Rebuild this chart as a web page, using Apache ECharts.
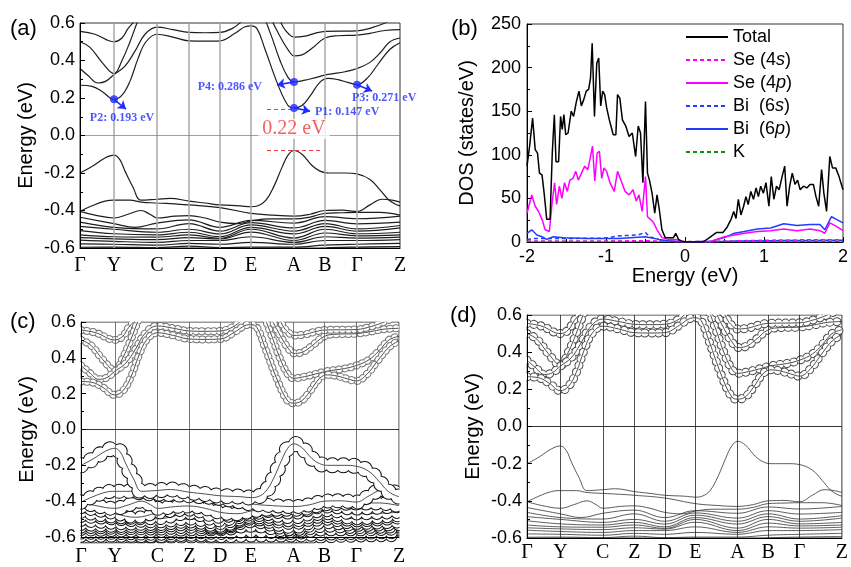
<!DOCTYPE html>
<html lang="en">
<head>
<meta charset="UTF-8">
<title>Band structure and DOS</title>
<script src="https://cdn.jsdelivr.net/npm/echarts@6/dist/echarts.min.js"></script>
<style>html,body{margin:0;padding:0;background:#fff;}</style>
</head>
<body>
<div id="main" style="width:851px;height:567px;"></div>
<script>
// high-symmetry path (k in arbitrary path units)
const kTicks = [0, 34, 77, 109, 140, 171, 214, 245, 277, 320];
const kNames = ['Γ', 'Y', 'C', 'Z', 'D', 'E', 'A', 'B', 'Γ', 'Z'];

// conduction bands [k, E]
const cbA = [[0,0.555],[15,0.54],[34,0.50],[42,0.52],[48,0.57],[56,0.62],[60,0.66]];
const cbB = [[0,0.50],[10,0.47],[22,0.39],[34,0.33],[42,0.40],[50,0.5],[57,0.6],[62,0.66]];
const cbC = [[0,0.357],[8,0.32],[18,0.28],[26,0.29],[34,0.325],[45,0.37],[55,0.45],[65,0.54],[77,0.578],[93,0.565],[109,0.55],[125,0.548],[140,0.55],[152,0.57],[162,0.61],[172,0.66],[182,0.64],[190,0.55],[200,0.4],[208,0.31],[214,0.286],[225,0.295],[232,0.304],[248,0.326],[265,0.34],[277,0.357],[290,0.39],[300,0.44],[310,0.5],[320,0.52]];
const cb1 = [[0,0.268],[12,0.262],[22,0.235],[34,0.193],[42,0.215],[50,0.29],[58,0.41],[66,0.5],[77,0.54],[93,0.525],[109,0.505],[125,0.503],[140,0.505],[155,0.545],[165,0.58],[171,0.585],[177,0.57],[185,0.46],[198,0.27],[208,0.16],[214,0.147],[222,0.16],[230,0.21],[240,0.285],[248,0.305],[258,0.298],[268,0.283],[277,0.271],[288,0.31],[298,0.38],[310,0.46],[320,0.495]];
const cb3 = [[186,0.68],[195,0.58],[203,0.5],[209,0.45],[214,0.425],[222,0.43],[232,0.465],[245,0.52],[258,0.532],[277,0.535],[290,0.545],[305,0.56],[320,0.565]];
const cb4 = [[195,0.68],[203,0.58],[209,0.54],[214,0.525],[225,0.53],[235,0.545],[245,0.555],[277,0.558],[292,0.575],[305,0.6],[315,0.625]];

// valence bands [k, E]
const vb1 = [[0,-0.2],[12,-0.165],[25,-0.12],[34,-0.105],[40,-0.13],[45,-0.19],[53,-0.276],[61,-0.345],[77,-0.34],[90,-0.335],[109,-0.35],[125,-0.36],[140,-0.37],[160,-0.375],[171,-0.38],[178,-0.375],[186,-0.345],[194,-0.27],[202,-0.17],[208,-0.105],[214,-0.08],[222,-0.1],[232,-0.16],[240,-0.19],[248,-0.2],[265,-0.2],[277,-0.205],[290,-0.235],[300,-0.29],[308,-0.34],[315,-0.365],[320,-0.375]];
const vb2 = [[0,-0.405],[12,-0.375],[25,-0.35],[34,-0.345],[50,-0.345],[61,-0.355],[77,-0.36],[95,-0.365],[109,-0.37],[140,-0.385],[171,-0.415],[193,-0.425],[214,-0.43],[230,-0.42],[245,-0.40],[262,-0.398],[277,-0.405],[290,-0.37],[302,-0.34],[312,-0.345],[320,-0.355]];
const vb3 = [[0,-0.405],[15,-0.425],[34,-0.44],[48,-0.42],[61,-0.40],[70,-0.42],[77,-0.44],[95,-0.43],[109,-0.427],[125,-0.44],[140,-0.462],[158,-0.47],[171,-0.455],[190,-0.445],[214,-0.445],[230,-0.435],[245,-0.415],[262,-0.412],[277,-0.41],[300,-0.41],[320,-0.425]];
const vb4 = [[0,-0.436],[34,-0.47],[55,-0.49],[77,-0.467],[109,-0.45],[140,-0.49],[171,-0.453],[214,-0.467],[245,-0.433],[277,-0.444],[320,-0.43]];
const vb5 = [[0,-0.462],[34,-0.49],[77,-0.498],[109,-0.47],[140,-0.51],[171,-0.465],[214,-0.493],[245,-0.453],[277,-0.471],[320,-0.462]];
const vb6 = [[0,-0.485],[34,-0.50],[77,-0.516],[109,-0.50],[140,-0.525],[171,-0.477],[214,-0.51],[245,-0.47],[277,-0.498],[320,-0.48]];
const vb7 = [[0,-0.507],[34,-0.524],[77,-0.53],[109,-0.516],[140,-0.54],[171,-0.49],[214,-0.525],[245,-0.485],[277,-0.51],[320,-0.493]];
const vb8 = [[0,-0.53],[34,-0.54],[77,-0.542],[109,-0.53],[140,-0.548],[171,-0.50],[214,-0.547],[245,-0.50],[277,-0.524],[320,-0.516]];
const vb9 = [[0,-0.545],[34,-0.551],[77,-0.555],[109,-0.545],[140,-0.552],[171,-0.515],[214,-0.56],[245,-0.52],[277,-0.535],[320,-0.53]];
const vb10 = [[0,-0.558],[34,-0.565],[77,-0.57],[109,-0.56],[140,-0.56],[171,-0.54],[214,-0.57],[245,-0.54],[277,-0.547],[320,-0.542]];
const vb11 = [[0,-0.578],[34,-0.58],[77,-0.585],[109,-0.575],[140,-0.58],[171,-0.57],[214,-0.58],[245,-0.56],[277,-0.56],[320,-0.555]];
const vb12 = [[0,-0.596],[34,-0.595],[77,-0.598],[109,-0.59],[140,-0.598],[171,-0.595],[214,-0.595],[245,-0.585],[277,-0.58],[320,-0.575]];
const vb13 = [[0,-0.615],[34,-0.61],[77,-0.605],[109,-0.602],[140,-0.61],[171,-0.62],[214,-0.615],[245,-0.6],[277,-0.595],[320,-0.592]];

const conduction = [cbA, cbB, cbC, cb1, cb3, cb4];
const valence = [vb13, vb12, vb11, vb10, vb9, vb8, vb7, vb6, vb5, vb4, vb3, vb2, vb1];

// annotations in panel (a)
const pNames = ['P1: 0.147 eV', 'P2: 0.193 eV', 'P3: 0.271 eV', 'P4: 0.286 eV'];
const pPoints = [[214, 0.147], [34, 0.193], [277, 0.271], [214, 0.286]];
const pArrowEnds = [[230, 0.13], [46, 0.141], [292, 0.237], [197, 0.269]];
const pLabelAt = [[235, 0.125], [42, 0.093], [272, 0.2], [182, 0.259]];
const gapText = '0.22 eV';
const gapLines = [[[187, 0.142], [213, 0.142]], [[187, -0.077], [242, -0.077]]];
const gapTextAt = [214, 0.035];

// DOS [E, states/eV]
const dosTotal = [[-2,87],[-1.967,110],[-1.929,142],[-1.896,106],[-1.867,102],[-1.842,79],[-1.81,77],[-1.783,56],[-1.75,26],[-1.708,26],[-1.68,102],[-1.654,146],[-1.633,92],[-1.6,92],[-1.575,144],[-1.554,129],[-1.533,146],[-1.51,123],[-1.48,125],[-1.44,150],[-1.41,144],[-1.375,161],[-1.342,173],[-1.312,156],[-1.283,163],[-1.25,173],[-1.22,175],[-1.196,188],[-1.175,228],[-1.146,144],[-1.117,205],[-1.092,211],[-1.067,156],[-1.042,173],[-1.017,169],[-0.992,154],[-0.958,140],[-0.908,123],[-0.875,123],[-0.854,169],[-0.825,165],[-0.792,140],[-0.75,133],[-0.708,121],[-0.667,125],[-0.625,98],[-0.592,133],[-0.563,125],[-0.533,68],[-0.5,161],[-0.475,79],[-0.45,71],[-0.417,56],[-0.383,33],[-0.354,54],[-0.325,37],[-0.292,14],[-0.25,5],[-0.188,5],[-0.146,5],[-0.117,10],[-0.083,3],[-0.042,1],[0,0],[0.23,0],[0.31,5],[0.4,11],[0.48,11],[0.533,17],[0.583,26],[0.617,35],[0.646,27],[0.675,49],[0.708,31],[0.742,41],[0.771,52],[0.8,43],[0.833,58],[0.867,49],[0.9,62],[0.929,52],[0.958,64],[0.992,56],[1.025,68],[1.062,41],[1.092,75],[1.125,49],[1.158,64],[1.192,60],[1.229,75],[1.262,87],[1.292,41],[1.325,64],[1.358,79],[1.392,66],[1.425,71],[1.458,60],[1.5,64],[1.542,62],[1.583,66],[1.625,66],[1.658,52],[1.692,41],[1.729,83],[1.758,56],[1.792,35],[1.833,98],[1.867,85],[1.908,85],[1.95,75],[2,60]];
const dosSe4p = [[-2,33],[-1.94,54],[-1.896,41],[-1.854,35],[-1.81,26],[-1.77,14],[-1.717,12],[-1.68,47],[-1.65,68],[-1.625,43],[-1.59,64],[-1.558,50],[-1.525,68],[-1.49,58],[-1.458,71],[-1.417,73],[-1.383,81],[-1.35,71],[-1.31,79],[-1.27,87],[-1.23,83],[-1.196,98],[-1.171,110],[-1.142,70],[-1.112,102],[-1.083,104],[-1.054,73],[-1.025,85],[-0.992,81],[-0.95,68],[-0.896,58],[-0.854,81],[-0.8125,71],[-0.758,58],[-0.708,54],[-0.658,60],[-0.617,47],[-0.583,54],[-0.542,35],[-0.5,75],[-0.475,29],[-0.4375,26],[-0.396,22],[-0.354,14],[-0.292,5],[-0.208,3],[-0.125,3],[-0.042,1],[0,0],[0.333,1],[0.5,6],[0.625,8],[0.75,10],[0.917,12],[1.083,13],[1.25,15],[1.417,13],[1.583,15],[1.708,13],[1.77,10],[1.833,22],[1.917,18],[2,13]];
const dosBi6p = [[-2,10],[-1.94,14],[-1.875,8],[-1.81,6],[-1.75,3],[-1.667,6],[-1.54,5],[-1.25,4],[-0.833,4],[-0.5,6],[-0.333,3],[-0.167,1],[0,0],[0.333,1],[0.5,5],[0.625,10],[0.75,12],[0.917,15],[1.083,16],[1.25,21],[1.417,19],[1.583,20],[1.708,20],[1.77,14],[1.854,29],[1.917,26],[2,22]];
const dosSe4s = [[-2,1],[-1.5,1],[-1,1],[-0.5,1.5],[-0.3,1],[0,0],[0.25,0],[0.5,1],[1,2],[1.5,2.5],[2,2.5]];
const dosBi6s = [[-2,3],[-1.9,4],[-1.5,4],[-1,4.5],[-0.85,7],[-0.6,8],[-0.5,11],[-0.45,6],[-0.3,2],[0,0],[0.3,0],[0.6,1],[1,1.5],[2,2]];
const dosK = [[-2,1],[-1,1],[0,0.5],[1,1],[2,1]];

const charts = echarts.init(document.getElementById('main'));
const sans = 'Liberation Sans';
const serif = 'Liberation Serif';

// grid boxes: (a), (b), (c), (d)
const grids = [
  { left: 80, top: 23, width: 320, height: 225 },
  { left: 527, top: 24, width: 319, height: 218 },
  { left: 81, top: 322, width: 318, height: 221 },
  { left: 527, top: 315, width: 319, height: 223 }
];

function bandX(gi, margin) {
  return {
    gridIndex: gi, type: 'value', min: 0, max: 320, z: 6,
    axisLine: { onZero: false, lineStyle: { color: '#000' } },
    axisTick: { show: false }, splitLine: { show: false },
    axisLabel: {
      customValues: kTicks, margin: margin, color: '#000', fontFamily: serif, fontSize: 20,
      formatter: v => kNames[kTicks.indexOf(v)]
    }
  };
}
function bandY(gi) {
  return {
    gridIndex: gi, type: 'value', min: -0.6, max: 0.6, interval: 0.2, z: 6,
    axisLine: { onZero: false, lineStyle: { color: '#000' } },
    axisTick: { inside: true, length: 5 },
    minorTick: { show: true, splitNumber: 2, length: 3, lineStyle: { color: '#000' } },
    splitLine: { show: false },
    axisLabel: { color: '#000', fontFamily: sans, fontSize: 18, margin: 5, formatter: v => v.toFixed(1) },
    name: 'Energy (eV)', nameLocation: 'middle', nameGap: 44,
    nameTextStyle: { color: '#000', fontFamily: sans, fontSize: 20 }
  };
}

const series = [];
function guides(gi, color, w, zeroColor) {
  series.push({
    type: 'line', xAxisIndex: gi, yAxisIndex: gi, data: [[0, -0.6]], symbol: 'none',
    lineStyle: { opacity: 0 }, silent: true,
    markLine: {
      silent: true, symbol: 'none', label: { show: false },
      lineStyle: { color: color, width: w, type: 'solid' },
      data: kTicks.slice(1, -1).map(k => ({ xAxis: k }))
        .concat([{ yAxis: 0, lineStyle: { color: zeroColor, width: 0.8, type: 'solid' } }])
    }
  });
}
function plainBand(band, gi, color, w) {
  series.push({
    type: 'line', xAxisIndex: gi, yAxisIndex: gi, data: band, smooth: 0.4,
    symbol: 'none', silent: true, lineStyle: { color: color, width: w }
  });
}
// circles along a band: round dots with a white core, then the band line
function rings(band, gi, d, gap, edge) {
  const base = { type: 'line', xAxisIndex: gi, yAxisIndex: gi, data: band, smooth: 0.4, symbol: 'none', silent: true };
  series.push(Object.assign({}, base, { lineStyle: { color: edge, width: d, type: [0.01, gap], cap: 'round' } }));
  series.push(Object.assign({}, base, { lineStyle: { color: '#fff', width: d - 2, type: [0.01, gap], cap: 'round' } }));
  series.push(Object.assign({}, base, { lineStyle: { color: '#222', width: 0.8 } }));
}

// (a)
guides(0, '#a8a8a8', 1.5, '#888');
conduction.concat(valence).forEach(b => plainBand(b, 0, '#1e1e1e', 1.2));
series.push({
  type: 'line', xAxisIndex: 0, yAxisIndex: 0, data: [[0, -0.6]], symbol: 'none', lineStyle: { opacity: 0 }, silent: true,
  markLine: {
    silent: true, symbol: 'none', label: { show: false },
    lineStyle: { color: '#ee3b3b', width: 1.2, type: [4, 3] },
    data: gapLines.map(l => [{ coord: l[0] }, { coord: l[1] }])
  }
});
series.push({
  type: 'scatter', xAxisIndex: 0, yAxisIndex: 0, data: [gapTextAt], symbolSize: 0, silent: true, z: 6,
  label: {
    show: true, position: 'inside', formatter: gapText, color: '#ee3b3b', fontFamily: serif, fontSize: 20,
    backgroundColor: '#fff', padding: [0, 4]
  }
});
series.push({
  type: 'scatter', xAxisIndex: 0, yAxisIndex: 0, data: pPoints, symbolSize: 8, silent: true, z: 7,
  itemStyle: { color: '#1f2bff' },
  markLine: {
    silent: true, symbol: ['none', 'arrow'], symbolSize: 8, label: { show: false },
    lineStyle: { color: '#1f2bff', width: 1.6, type: 'solid' },
    data: pPoints.map((p, i) => [{ coord: p }, { coord: pArrowEnds[i] }])
  }
});
const pAlign = ['left', 'center', 'left', 'right'];
series.push({
  type: 'scatter', xAxisIndex: 0, yAxisIndex: 0, symbolSize: 0, silent: true, z: 7,
  data: pLabelAt.map((p, i) => ({ value: p, label: { align: pAlign[i] } })),
  labelLayout: { moveOverlap: false, hideOverlap: false },
  label: {
    show: true, position: [0, 0], verticalAlign: 'middle', color: '#1f2bff',
    fontFamily: serif, fontWeight: 'bold', fontSize: 12,
    formatter: p => pNames[p.dataIndex]
  }
});

// (b) DOS
const dosSeries = [
  { name: 'K', data: dosK, color: '#109010', type: [4, 3] },
  { name: 'Se (4s)', data: dosSe4s, color: '#ff00ff', type: [4, 3] },
  { name: 'Bi  (6s)', data: dosBi6s, color: '#1f3cff', type: [4, 3] },
  { name: 'Bi  (6p)', data: dosBi6p, color: '#1f3cff', type: 'solid' },
  { name: 'Se (4p)', data: dosSe4p, color: '#ff00ff', type: 'solid' },
  { name: 'Total', data: dosTotal, color: '#000', type: 'solid' }
];
dosSeries.forEach(s => series.push({
  type: 'line', name: s.name, xAxisIndex: 1, yAxisIndex: 1, data: s.data, symbol: 'none', silent: true,
  itemStyle: { color: s.color }, lineStyle: { color: s.color, width: 1.5, type: s.type }
}));

// (c) fat bands
guides(2, '#555', 0.8, '#000');
conduction.forEach(b => rings(b, 2, 8, 6, '#777'));
valence.forEach((b, i) => {
  const top = i === valence.length - 1;
  rings(b, 2, top ? 16 : (i > 9 ? 15 : 13), top ? 11 : 10, '#111');
});

// (d) fat bands
guides(3, '#222', 0.8, '#000');
valence.forEach(b => plainBand(b, 3, '#333', 0.8));
conduction.forEach(b => rings(b, 3, 9, 7, '#444'));

// white margins so the wide circle strokes stop at the frame of (c) and (d)
const masks = [];
[grids[2], grids[3]].forEach(g => {
  const r = g.left + g.width, b = g.top + g.height, m = 10;
  masks.push({ x: g.left - m, y: g.top - m, width: g.width + 2 * m, height: m - 0.6 });
  masks.push({ x: g.left - m, y: b + 0.6, width: g.width + 2 * m, height: m });
  masks.push({ x: g.left - m, y: g.top - m, width: m - 0.6, height: g.height + 2 * m });
  masks.push({ x: r + 0.6, y: g.top - m, width: m, height: g.height + 2 * m });
});

const option = {
  animation: false,
  backgroundColor: '#fff',
  grid: grids.map(g => Object.assign({ show: true, borderColor: '#333', borderWidth: 1 }, g)),
  xAxis: [
    bandX(0, 8),
    {
      gridIndex: 1, type: 'value', min: -2, max: 2, interval: 1,
      axisLine: { onZero: false, lineStyle: { color: '#000' } },
      axisTick: { inside: true, length: 5 },
      minorTick: { show: true, splitNumber: 2, length: 3, lineStyle: { color: '#000' } },
      splitLine: { show: false },
      axisLabel: { color: '#000', fontFamily: sans, fontSize: 18, margin: 6 },
      name: 'Energy (eV)', nameLocation: 'middle', nameGap: 23,
      nameTextStyle: { color: '#000', fontFamily: sans, fontSize: 20 }
    },
    bandX(2, 10),
    bandX(3, 5)
  ],
  yAxis: [
    bandY(0),
    {
      gridIndex: 1, type: 'value', min: 0, max: 250, interval: 50,
      axisLine: { onZero: false, lineStyle: { color: '#000' } },
      axisTick: { inside: true, length: 5 },
      minorTick: { show: true, splitNumber: 2, length: 3, lineStyle: { color: '#000' } },
      splitLine: { show: false },
      axisLabel: { color: '#000', fontFamily: sans, fontSize: 18, margin: 6 },
      name: 'DOS (states/eV)', nameLocation: 'middle', nameGap: 50,
      nameTextStyle: { color: '#000', fontFamily: sans, fontSize: 20 }
    },
    bandY(2),
    bandY(3)
  ],
  legend: {
    data: ['Total', 'Se (4s)', 'Se (4p)', 'Bi  (6s)', 'Bi  (6p)', 'K'],
    orient: 'vertical', left: 680, top: 23, itemWidth: 42, itemHeight: 12, itemGap: 5,
    selectedMode: false,
    itemStyle: { opacity: 0 },
    textStyle: {
      color: '#000', fontFamily: sans, fontSize: 18,
      rich: { i: { fontStyle: 'italic', fontFamily: sans, fontSize: 18, color: '#000' } }
    },
    formatter: n => n.replace(/\((\d)([sp])\)/, '($1{i|$2})')
  },
  graphic: masks.map(s => ({ type: 'rect', shape: s, style: { fill: '#fff' }, z: 5, silent: true })).concat([
    { type: 'text', left: 10, top: 18, style: { text: '(a)', font: '22px "Liberation Sans"', fill: '#000' } },
    { type: 'text', left: 451, top: 18, style: { text: '(b)', font: '22px "Liberation Sans"', fill: '#000' } },
    { type: 'text', left: 10, top: 311, style: { text: '(c)', font: '22px "Liberation Sans"', fill: '#000' } },
    { type: 'text', left: 450, top: 305, style: { text: '(d)', font: '22px "Liberation Sans"', fill: '#000' } }
  ]),
  series: series
};
charts.setOption(option);
</script>
</body>
</html>
